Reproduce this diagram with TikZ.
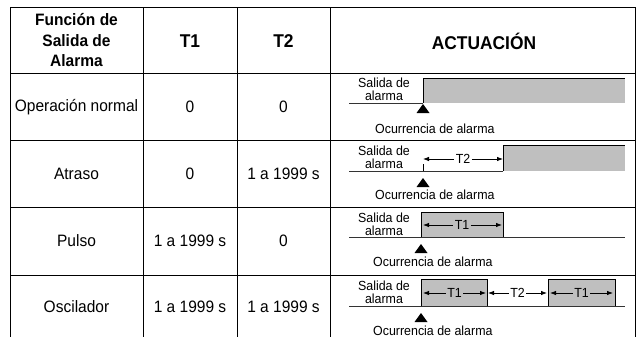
\documentclass[tikz,border=0pt]{standalone}
\usepackage{fontspec}
\setmainfont{Liberation Sans}
\newfontfamily\narrowsans[FakeStretch=0.94]{Liberation Sans}
\usetikzlibrary{arrows.meta}
\begin{document}
\begin{tikzpicture}[x=1pt,y=-1pt,
  grid/.style={line width=1pt,black},
  cell/.style={font=\narrowsans\fontsize{16.5}{19}\selectfont, align=center, inner sep=0pt},
  head/.style={align=center, inner sep=0pt, font=\narrowsans\fontsize{16.5}{20.5}\selectfont\bfseries},
  bighead/.style={head, font=\narrowsans\fontsize{18.5}{20.5}\selectfont\bfseries},
  small/.style={font=\narrowsans\fontsize{13.2}{13}\selectfont, inner sep=0pt, align=center},
  lbl/.style={small, fill=white, inner xsep=1.5pt, inner ysep=1pt},
  baseln/.style={line width=0.9pt, black!80},
  pulsefill/.style={fill=black!25},
  pulseedge/.style={draw=black, line width=0.8pt},
  dim/.style={line width=0.8pt, -{Latex[length=6pt,width=4.5pt]}},
  tri/.style={fill=black}
]
\useasboundingbox (0,0) rectangle (636,337);
% ---------- table grid ----------
\foreach \yy in {8,73,140,207,275} \draw[grid] (10,\yy) -- (635.5,\yy);
\foreach \xx in {10,143,237,330,635.5} \draw[grid] (\xx,8) -- (\xx,337);
% ---------- header ----------
\node[head] (h1) at (76.5,40.5) {Función de\\Salida de\\Alarma};
\node[bighead] (h2) at (190,41) {T1};
\node[bighead] (h3) at (283.5,41) {T2};
\node[bighead] (h4) at (484,41) {ACTUACIÓN};
% ---------- body ----------
\node[cell] (r1a) at (76.5,107) {Operación normal};
\node[cell] (r1b) at (190,107) {0};
\node[cell] (r1c) at (283.5,107) {0};
\node[cell] (r2a) at (76.5,174) {Atraso};
\node[cell] (r2b) at (190,174) {0};
\node[cell] (r2c) at (283.5,174) {1 a 1999 s};
\node[cell] (r3a) at (76.5,241) {Pulso};
\node[cell] (r3b) at (190,241) {1 a 1999 s};
\node[cell] (r3c) at (283.5,241) {0};
\node[cell] (r4a) at (76.5,307) {Oscilador};
\node[cell] (r4b) at (190,307) {1 a 1999 s};
\node[cell] (r4c) at (283.5,307) {1 a 1999 s};
% ---------- row 1: normal ----------
\fill[pulsefill] (423,78) rectangle (625,103);
\draw[baseln] (349,103) -- (423,103);
\draw[pulseedge] (423,103) -- (423,78) -- (625,78);
\node[small] (s1) at (384,89) {Salida de\\alarma};
\fill[tri] (423,104) -- (429.5,113) -- (416.5,113) -- cycle;
\node[small,anchor=west] (o1) at (375,129) {Ocurrencia de alarma};
% ---------- row 2: atraso ----------
\fill[pulsefill] (503,145) rectangle (625,171);
\draw[baseln] (349,171) -- (503,171);
\draw[pulseedge] (503,171) -- (503,145) -- (625,145);
\draw[line width=0.8pt] (423,171) -- (423,164);
\node[small] (s2) at (384,157) {Salida de\\alarma};
\coordinate (t2a) at (423,159);
\coordinate (t2b) at (503,159);
\node[lbl] (t2) at (463,159) {T2};
\draw[dim] (t2.west) -- (t2a);
\draw[dim] (t2.east) -- (t2b);
\fill[tri] (423,178) -- (429.5,187) -- (416.5,187) -- cycle;
\node[small,anchor=west] (o2) at (375,195) {Ocurrencia de alarma};
% ---------- row 3: pulso ----------
\fill[pulsefill] (421,212) rectangle (503,237);
\draw[baseln] (349,237) -- (625,237);
\draw[pulseedge] (421,237) -- (421,212) -- (503,212) -- (503,237);
\node[small] (s3) at (384,224) {Salida de\\alarma};
\coordinate (t3a) at (423,225);
\coordinate (t3b) at (502,225);
\node[lbl,fill=black!25] (t3) at (462,225) {T1};
\draw[dim] (t3.west) -- (t3a);
\draw[dim] (t3.east) -- (t3b);
\fill[tri] (421,244) -- (427.5,253) -- (414.5,253) -- cycle;
\node[small,anchor=west] (o3) at (373,262) {Ocurrencia de alarma};
% ---------- row 4: oscilador ----------
\fill[pulsefill] (421,279) rectangle (487,306);
\fill[pulsefill] (548,279) rectangle (615,306);
\draw[baseln] (349,306) -- (625,306);
\draw[pulseedge] (421,306) -- (421,279) -- (487,279) -- (487,306);
\draw[pulseedge] (548,306) -- (548,279) -- (615,279) -- (615,306);
\node[small] (s4) at (384,292) {Salida de\\alarma};
\coordinate (t4a) at (423,293);
\coordinate (t4b) at (486,293);
\node[lbl,fill=black!25] (t4) at (454.5,293) {T1};
\draw[dim] (t4.west) -- (t4a);
\draw[dim] (t4.east) -- (t4b);
\coordinate (t5a) at (488,293);
\coordinate (t5b) at (547,293);
\node[lbl] (t5) at (517.5,293) {T2};
\draw[dim] (t5.west) -- (t5a);
\draw[dim] (t5.east) -- (t5b);
\coordinate (t6a) at (550,293);
\coordinate (t6b) at (613,293);
\node[lbl,fill=black!25] (t6) at (581.5,293) {T1};
\draw[dim] (t6.west) -- (t6a);
\draw[dim] (t6.east) -- (t6b);
\fill[tri] (421,313) -- (427.5,322) -- (414.5,322) -- cycle;
\node[small,anchor=west] (o4) at (373,331) {Ocurrencia de alarma};
\end{tikzpicture}
\end{document}
